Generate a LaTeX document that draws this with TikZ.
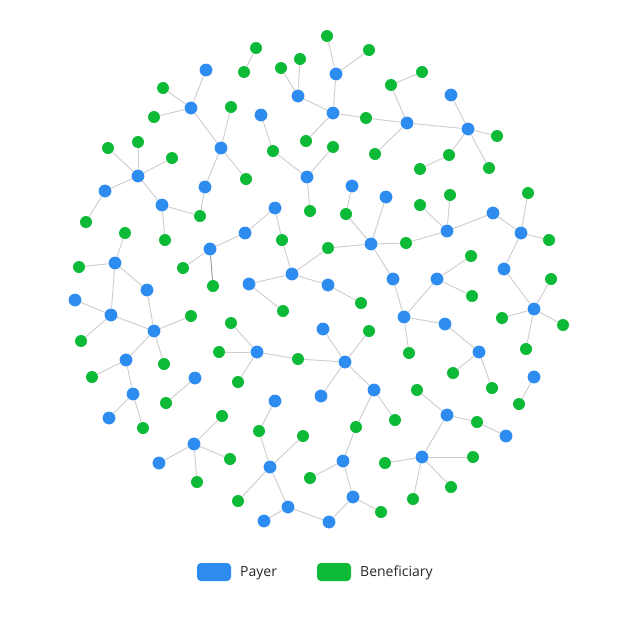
\documentclass[tikz,border=0pt]{standalone}
\usepackage{fontspec}
\setmainfont{Open Sans}
\definecolor{payblue}{RGB}{46,140,240}
\definecolor{bengreen}{RGB}{12,186,56}
\definecolor{edgegray}{RGB}{205,205,205}
\definecolor{edgedark}{RGB}{150,150,150}
\definecolor{legtext}{RGB}{40,40,40}
\tikzset{
  pay/.style={circle,fill=payblue,inner sep=0pt,minimum size=12.8pt},
  ben/.style={circle,fill=bengreen,inner sep=0pt,minimum size=12pt},
  edge/.style={draw=edgegray,line width=0.9pt},
  legbox/.style={rounded corners=4pt,inner sep=0pt,minimum width=34pt,minimum height=18pt},
  legtxt/.style={anchor=west,inner sep=0pt,text=legtext,font=\fontsize{14}{16}\selectfont}
}
\begin{document}
\begin{tikzpicture}[x=1pt,y=-1pt]
\fill[white] (0,0) rectangle (624,624);
\useasboundingbox (0,0) rectangle (624,624);
% payers
\foreach \n/\x/\y in {b1/206/70,b2/191/108,b3/221/148,b4/261/115,b5/138/176,b6/105/191,b7/205/187,b8/162/205,b9/275/208,
b10/336/74,b11/298/96,b12/333/113,b13/407/123,b14/451/95,b15/468/129,b16/307/177,b17/352/186,b18/386/197,b19/493/213,
b20/447/231,b21/521/233,b22/245/233,b23/210/249,b24/115/263,b25/147/290,b26/75/300,b27/111/315,b28/154/331,b29/126/360,
b30/249/284,b31/292/274,b32/328/285,b33/371/244,b34/393/279,b35/404/317,b36/437/279,b37/504/269,b38/534/309,b39/445/324,
b40/479/352,b41/534/377,b42/257/352,b43/323/329,b44/345/362,b45/195/378,b46/133/394,b47/109/418,b48/194/444,b49/159/463,
b50/321/396,b51/374/390,b52/275/401,b53/270/467,b54/343/461,b55/422/457,b56/447/415,b57/506/436,b58/288/507,b59/353/497,
b60/264/521,b61/329/522}
  \node[pay] (\n) at (\x,\y) {};
% beneficiaries
\foreach \n/\x/\y in {g1/256/48,g2/244/72,g3/163/88,g4/154/117,g5/231/107,g6/273/151,g7/108/148,g8/138/142,g9/172/158,
g10/246/179,g11/200/216,g12/327/36,g13/369/50,g14/300/59,g15/281/68,g16/366/118,g17/391/85,g18/422/72,g19/306/141,
g20/333/147,g21/375/154,g22/449/155,g23/420/169,g24/497/136,g25/489/168,g26/310/211,g27/346/214,g28/420/205,g29/450/195,
g30/528/193,g31/549/240,g32/406/243,g33/86/222,g34/165/240,g35/125/233,g36/79/267,g37/81/341,g38/191/316,g39/164/364,
g40/92/377,g41/183/268,g42/213/286,g43/282/240,g44/328/248,g45/283/311,g46/361/303,g47/231/323,g48/219/352,g49/238/382,
g50/298/359,g51/369/331,g52/409/353,g53/471/256,g54/472/296,g55/551/279,g56/502/318,g57/563/325,g58/526/349,g59/453/373,
g60/492/388,g61/519/404,g62/417/390,g63/477/422,g64/395/420,g65/166/403,g66/143/428,g67/222/416,g68/230/459,g69/197/482,
g70/259/431,g71/238/501,g72/303/436,g73/356/427,g74/310/478,g75/381/512,g76/385/463,g77/413/499,g78/473/457,g79/451/487}
  \node[ben] (\n) at (\x,\y) {};
% connections
\foreach \a/\b in {g1/g2,b1/b2,g3/b2,g4/b2,b2/b3,g5/b3,b3/g10,b3/b7,b7/g11,b4/g6,b5/g7,b5/g8,b5/g9,b5/b6,b5/b8,b8/g11,
b6/g33,g12/b10,g13/b10,b10/b12,g14/b11,g15/b11,b11/b12,b12/g19,b12/g16,g16/b13,b13/g17,g17/g18,b13/g21,b13/b15,b14/b15,
b15/g22,g22/g23,b15/g24,b15/g25,g6/b16,g20/b16,b16/g26,b17/g27,g27/b33,b18/b33,b33/g32,g32/b20,g29/b20,g28/b20,b20/b19,
b19/b21,b21/g30,b21/g31,b21/b37,b8/g34,g35/b24,g36/b24,b24/b25,b24/b27,b25/b28,b26/b27,b27/b28,b27/g37,b28/g38,b28/b29,
b28/g39,b29/g40,b29/b46,b46/b47,b46/g66,b9/b22,b22/b23,b23/g41,b9/g43,g43/b31,b31/g44,g44/b33,b31/b30,b31/b32,
b30/g45,b32/g46,b33/b34,b34/b35,b35/g52,b35/b36,b35/b39,b36/g53,b36/g54,b37/b38,b38/g55,b38/g56,b38/g57,b38/g58,b39/b40,
b40/g59,b40/g60,b41/g61,g62/b56,b56/g63,g63/b57,b56/b55,b55/g76,b55/g78,b55/g79,b55/g77,b42/g47,b42/g48,b42/g50,b42/g49,
g50/b44,b43/b44,g51/b44,b44/b50,b44/b51,b51/g64,b51/g73,g73/b54,b54/g74,b54/b59,b59/g75,b59/b61,b61/b58,b58/b60,b58/b53,
b53/g70,g70/b52,b53/g72,b53/g71,b45/g65,b48/g67,b48/b49,b48/g68,b48/g69}
  \draw[edge] (\a) -- (\b);
\draw[edge,draw=edgedark] (b23) -- (g42);
% legend
\node[legbox,fill=payblue] (lpay) at (214,572) {};
\node[legtxt] (tpay) at (240,573) {Payer};
\node[legbox,fill=bengreen] (lben) at (334,572) {};
\node[legtxt] (tben) at (360,573) {Beneficiary};
\end{tikzpicture}
\end{document}
